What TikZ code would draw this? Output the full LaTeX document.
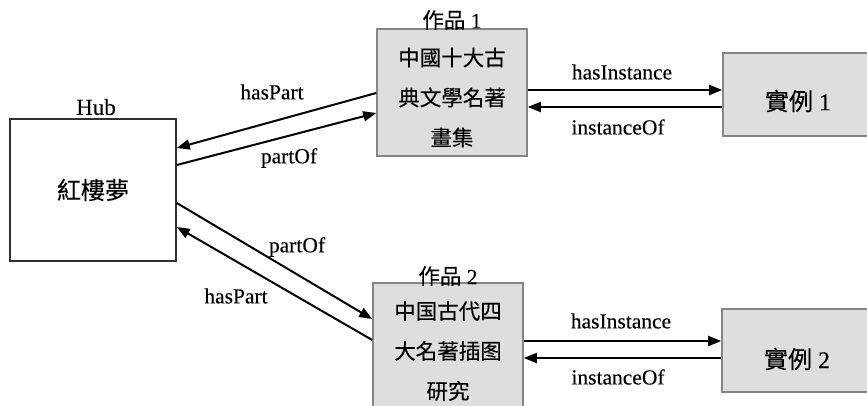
\documentclass[tikz,border=0pt]{standalone}
\usepackage{fontspec}
\setmainfont{Liberation Serif}[FakeBold=0.2]
\newfontfamily\cjk{Noto Sans CJK TC}[FakeBold=0.2]
\usetikzlibrary{arrows.meta}
\definecolor{boxfill}{HTML}{DEDEDE}
\definecolor{boxedge}{HTML}{858585}
\definecolor{hubedge}{HTML}{303030}

\begin{document}
\begin{tikzpicture}[x=1pt,y=-1pt,
  lbl/.style={font=\fontsize{21.5}{24}\selectfont, inner sep=0pt},
  cjkbig/.style={font=\cjk\fontsize{24}{28}\selectfont},
  cjkbox/.style={font=\cjk\fontsize{21.5}{40}\selectfont, align=center, inner sep=0pt},
  hubbox/.style={draw=hubedge, fill=white, line width=1.5pt, minimum width=166pt, minimum height=142pt, inner sep=0pt},
  workbox/.style={draw=boxedge, fill=boxfill, line width=1.6pt, minimum width=150pt, minimum height=127pt, inner sep=0pt},
  instbox/.style={draw=boxedge, fill=boxfill, line width=1.6pt, minimum height=83pt, inner sep=0pt},
  link/.style={line width=2pt, -{Triangle[length=13pt,width=10pt]}}
]
\useasboundingbox (0,0) rectangle (867,405);
\clip (0,0) rectangle (867,405);

% hub
\node[hubbox, cjkbig] (hub) at (93,190) {紅樓夢};
\node[lbl, font=\fontsize{23}{26}\selectfont] (hubt) at (96,107) {Hub};

% works
\node[workbox, label={[cjkbox, yshift=-5pt, name=w1t]center:中國十大古\\典文學名著\\畫集}] (w1) at (452,92.5) {};
\node[lbl] (w1l) at (452,20) {{\cjk 作品} 1};
\node[workbox, label={[cjkbox, yshift=-4.5pt, name=w2t]center:中国古代四\\大名著插图\\研究}] (w2) at (448,346.5) {};
\node[lbl] (w2l) at (448,276) {{\cjk 作品} 2};

% instances
\node[instbox, minimum width=147pt] (i1) at (796.5,94.5) {};
\node[lbl, font=\fontsize{24}{28}\selectfont] (i1t) at (798,101) {{\cjk 實例} 1};
\node[instbox, minimum width=148pt] (i2) at (796,350.5) {};
\node[lbl, font=\fontsize{24}{28}\selectfont] (i2t) at (797,359) {{\cjk 實例} 2};

% hub <-> work 1
\draw[link] ([yshift=-0.5pt]w1.west) -- ([yshift=42pt]hub.east);
\draw[link] ([yshift=25pt]hub.east) -- ([yshift=-20.5pt]w1.west);
\node[lbl] (hp1) at (272,92) {hasPart};
\node[lbl] (po1) at (289,158) {partOf};

% hub <-> work 2
\draw[link] ([yshift=-13pt]hub.east) -- ([yshift=27.5pt]w2.west);
\draw[link] ([yshift=6.5pt]w2.west) -- ([yshift=-37pt]hub.east);
\node[lbl] (po2) at (297,247) {partOf};
\node[lbl] (hp2) at (236,296) {hasPart};

% work 1 <-> instance 1
\draw[link] ([yshift=2.5pt]w1.east) -- ([yshift=2.5pt]w1.east -| i1.west);
\draw[link] ([yshift=-14.5pt]w1.east -| i1.west) -- ([yshift=-14.5pt]w1.east);
\node[lbl] (hi1) at (622,72) {hasInstance};
\node[lbl] (io1) at (618,127) {instanceOf};

% work 2 <-> instance 2
\draw[link] ([yshift=5.5pt]w2.east) -- ([yshift=5.5pt]w2.east -| i2.west);
\draw[link] ([yshift=-11.5pt]w2.east -| i2.west) -- ([yshift=-11.5pt]w2.east);
\node[lbl] (hi2) at (621,321) {hasInstance};
\node[lbl] (io2) at (618,377) {instanceOf};
\end{tikzpicture}
\end{document}
